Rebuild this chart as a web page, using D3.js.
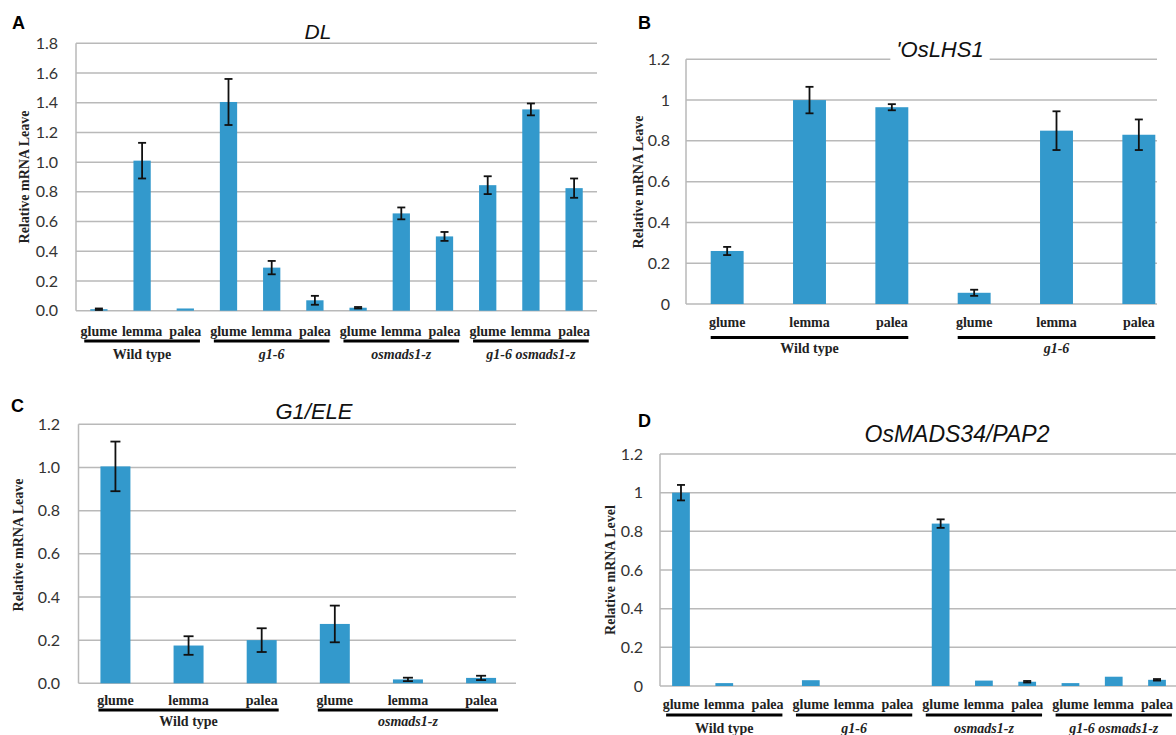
<!DOCTYPE html>
<html>
<head>
<meta charset="utf-8">
<script src="https://cdn.jsdelivr.net/npm/d3@7"></script>
<style>
  body { margin: 0; background: #fff; }
  .serif { font-family: "Liberation Serif", "Times New Roman", serif; font-weight: bold; }
</style>
</head>
<body>
<svg id="chart" width="1176" height="735"></svg>
<script>
// ---- data ----
const tissues = ["glume", "lemma", "palea"];
const groupsFour = ["Wild type", "g1-6", "osmads1-z", "g1-6 osmads1-z"];
const groupsB = ["Wild type", "g1-6"];
const groupsC = ["Wild type", "osmads1-z"];

// A: DL
const dlMean = [0.01, 1.01, 0.015, 1.405, 0.29, 0.07, 0.02, 0.655, 0.50, 0.845, 1.355, 0.825];
const dlErr  = [0.005, 0.12, 0, 0.155, 0.045, 0.03, 0.005, 0.04, 0.03, 0.06, 0.04, 0.065];
// B: OsLHS1
const lhsMean = [0.26, 1.0, 0.965, 0.055, 0.85, 0.83];
const lhsErr  = [0.02, 0.065, 0.015, 0.015, 0.095, 0.075];
// C: G1/ELE
const eleMean = [1.005, 0.175, 0.2, 0.275, 0.018, 0.025];
const eleErr  = [0.115, 0.043, 0.055, 0.085, 0.008, 0.01];
// D: OsMADS34/PAP2
const madsMean = [1.0, 0.015, 0, 0.03, 0, 0, 0.84, 0.028, 0.022, 0.015, 0.048, 0.032];
const madsErr  = [0.04, 0, 0, 0, 0, 0, 0.022, 0, 0.004, 0, 0, 0.004];

const ticksA = [0, 0.2, 0.4, 0.6, 0.8, 1.0, 1.2, 1.4, 1.6, 1.8];
const ticksB = [0, 0.2, 0.4, 0.6, 0.8, 1, 1.2];
const ticksC = [0, 0.2, 0.4, 0.6, 0.8, 1.0, 1.2];
const ticksD = [0, 0.2, 0.4, 0.6, 0.8, 1, 1.2];

const BLUE = "#3399cc";
const GRID = "#b9b9b9";

const svg = d3.select("#chart");

function drawPanel(c) {
  const g = svg.append("g");
  const n = c.mean.length;

  const x = d3.scaleBand()
    .domain(d3.range(n))
    .range([c.left, c.right])
    .paddingInner(c.padIn)
    .paddingOuter(c.padOut);

  const y = d3.scaleLinear()
    .domain([0, c.max])
    .range([c.bottom, c.top]);

  // gridlines
  g.append("g")
    .selectAll("line")
    .data(c.ticks)
    .join("line")
    .attr("x1", c.left)
    .attr("x2", c.gridRight)
    .attr("y1", d => y(d))
    .attr("y2", d => y(d))
    .attr("stroke", GRID)
    .attr("stroke-width", 1.5);

  // left axis line
  g.append("line")
    .attr("x1", c.left).attr("x2", c.left)
    .attr("y1", y(0)).attr("y2", y(c.max))
    .attr("stroke", GRID)
    .attr("stroke-width", 1.5);

  // y tick labels
  const yAxis = d3.axisLeft(y)
    .tickValues(c.ticks)
    .tickSize(0)
    .tickPadding(c.left - c.tickRight)
    .tickFormat(c.fmt);
  const gy = g.append("g")
    .attr("transform", `translate(${c.left},0)`)
    .call(yAxis);
  gy.select(".domain").remove();
  gy.selectAll("text")
    .style("font-family", "Lato, 'Open Sans', sans-serif")
    .style("font-size", "16px")
    .attr("fill", "#333");

  // bars
  g.append("g")
    .selectAll("rect")
    .data(c.mean)
    .join("rect")
    .attr("x", (d, i) => x(i))
    .attr("width", x.bandwidth())
    .attr("y", d => y(d))
    .attr("height", d => y(0) - y(d))
    .attr("fill", BLUE);

  // error bars
  const cap = c.cap;
  const eb = g.append("g")
    .selectAll("g")
    .data(c.mean.map((m, i) => ({ m, e: c.err[i], i })).filter(d => d.e > 0))
    .join("g")
    .attr("stroke", "#111")
    .attr("stroke-width", 1.8);
  eb.append("line")
    .attr("x1", d => x(d.i) + x.bandwidth() / 2)
    .attr("x2", d => x(d.i) + x.bandwidth() / 2)
    .attr("y1", d => y(d.m - d.e))
    .attr("y2", d => y(d.m + d.e));
  eb.append("line")
    .attr("x1", d => x(d.i) + x.bandwidth() / 2 - cap)
    .attr("x2", d => x(d.i) + x.bandwidth() / 2 + cap)
    .attr("y1", d => y(d.m + d.e))
    .attr("y2", d => y(d.m + d.e));
  eb.append("line")
    .attr("x1", d => x(d.i) + x.bandwidth() / 2 - cap)
    .attr("x2", d => x(d.i) + x.bandwidth() / 2 + cap)
    .attr("y1", d => y(d.m - d.e))
    .attr("y2", d => y(d.m - d.e));

  // tissue labels
  const xAxis = d3.axisBottom(x)
    .tickSize(0)
    .tickPadding(0)
    .tickFormat(i => tissues[i % 3]);
  const gx = g.append("g")
    .attr("transform", `translate(0,${c.labelY})`)
    .call(xAxis);
  gx.select(".domain").remove();
  gx.selectAll("text")
    .attr("class", "serif")
    .attr("dy", "0")
    .style("font-size", "14px")
    .attr("fill", "#222");

  // genotype underlines + labels
  c.groups.forEach((name, gi) => {
    const first = gi * 3, last = gi * 3 + 2;
    g.append("line")
      .attr("x1", x(first) - c.lineExt)
      .attr("x2", x(last) + x.bandwidth() + c.lineExt)
      .attr("y1", c.lineY).attr("y2", c.lineY)
      .attr("stroke", "#000")
      .attr("stroke-width", 3);
    g.append("text")
      .attr("class", "serif")
      .attr("x", x(first + 1) + x.bandwidth() / 2)
      .attr("y", c.groupY)
      .attr("text-anchor", "middle")
      .style("font-size", "14px")
      .style("font-style", name === "Wild type" ? "normal" : "italic")
      .attr("fill", "#222")
      .text(name);
  });

  // y title
  g.append("text")
    .attr("class", "serif")
    .attr("transform", `translate(${c.yTitleX},${c.yTitleY}) rotate(-90)`)
    .attr("dy", "0.35em")
    .attr("text-anchor", "middle")
    .style("font-size", "14px")
    .attr("fill", "#222")
    .text(c.yTitle);

  // panel letter
  g.append("text")
    .attr("x", c.letterX)
    .attr("y", c.letterY)
    .style("font-family", "'Liberation Sans', Arial, sans-serif")
    .style("font-weight", "bold")
    .style("font-size", "18px")
    .attr("fill", "#000")
    .text(c.letter);

  // chart title
  const title = g.append("text")
    .attr("x", c.titleX)
    .attr("y", c.titleY)
    .attr("text-anchor", "middle")
    .style("font-family", "'Liberation Sans', Arial, sans-serif")
    .style("font-style", "italic")
    .style("font-size", c.titleSize + "px")
    .attr("fill", "#111")
    .text(c.title);
  if (c.titleBox) {
    const bb = title.node().getBBox();
    g.insert("rect", () => title.node())
      .attr("x", bb.x - 6).attr("y", bb.y - 2)
      .attr("width", bb.width + 12).attr("height", bb.height + 4)
      .attr("fill", "#fff");
  }
}

drawPanel({
  letter: "A", letterX: 12, letterY: 29,
  title: "DL", titleX: 318, titleY: 39, titleSize: 21,
  mean: dlMean, err: dlErr, groups: groupsFour,
  ticks: ticksA, fmt: d3.format(".1f"), max: 1.8,
  left: 76, right: 597, gridRight: 597, top: 43.3, bottom: 310.7,
  padIn: 0.6, padOut: 0.33, tickRight: 58, cap: 4,
  labelY: 336, lineY: 341, lineExt: 6, groupY: 359,
  yTitle: "Relative mRNA Leave", yTitleX: 24, yTitleY: 177
});

drawPanel({
  letter: "B", letterX: 638, letterY: 29,
  title: "'OsLHS1", titleX: 940, titleY: 57, titleSize: 22, titleBox: true,
  mean: lhsMean, err: lhsErr, groups: groupsB,
  ticks: ticksB, fmt: d3.format(""), max: 1.2,
  left: 686, right: 1180, gridRight: 1157, top: 59.3, bottom: 304,
  padIn: 0.6, padOut: 0.3, tickRight: 670, cap: 4,
  labelY: 327, lineY: 337.5, lineExt: 0, groupY: 353,
  yTitle: "Relative mRNA Leave", yTitleX: 638, yTitleY: 182
});

drawPanel({
  letter: "C", letterX: 11, letterY: 412,
  title: "G1/ELE", titleX: 314, titleY: 419, titleSize: 22,
  mean: eleMean, err: eleErr, groups: groupsC,
  ticks: ticksC, fmt: d3.format(".1f"), max: 1.2,
  left: 78.5, right: 518, gridRight: 516, top: 424.3, bottom: 683.3,
  padIn: 0.59, padOut: 0.3, tickRight: 60, cap: 5,
  labelY: 705, lineY: 710, lineExt: 2, groupY: 726,
  yTitle: "Relative mRNA Leave", yTitleX: 18, yTitleY: 545
});

drawPanel({
  letter: "D", letterX: 638, letterY: 427,
  title: "OsMADS34/PAP2", titleX: 957, titleY: 442, titleSize: 23,
  mean: madsMean, err: madsErr, groups: groupsFour,
  ticks: ticksD, fmt: d3.format(""), max: 1.2,
  left: 660, right: 1178, gridRight: 1176, top: 454, bottom: 686,
  padIn: 0.59, padOut: 0.28, tickRight: 643, cap: 4,
  labelY: 709, lineY: 715, lineExt: 6, groupY: 733,
  yTitle: "Relative mRNA Level", yTitleX: 610, yTitleY: 570
});
</script>
</body>
</html>
